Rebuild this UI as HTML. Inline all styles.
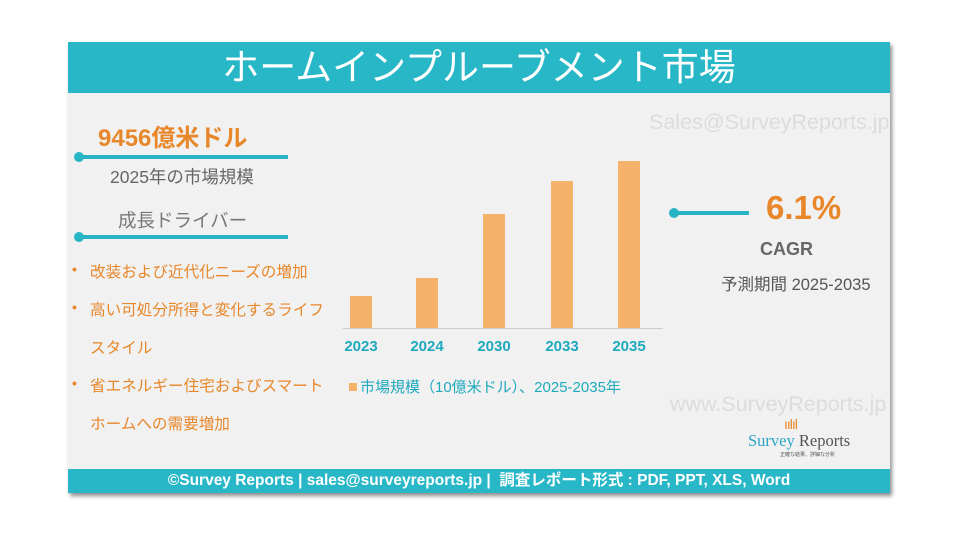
<!DOCTYPE html><html><head><meta charset="utf-8"><style>
body{margin:0;width:960px;height:540px;background:#fff;position:relative;overflow:hidden;font-family:"Liberation Sans","Noto Sans CJK JP",sans-serif}
.a{position:absolute;white-space:nowrap}
.card{position:absolute;left:68px;top:42px;width:822px;height:451px;background:#f1f1f1;box-shadow:2px 3px 4px rgba(0,0,0,.45)}
.bar{position:absolute;width:22px;background:#f5b26b;bottom:212px}
.yr{position:absolute;top:338px;font-weight:bold;font-size:15px;color:#1ea9bd;width:60px;text-align:center}
.dot{position:absolute;width:10px;height:10px;border-radius:50%;background:#27b4c5}
.ln{position:absolute;height:4px;background:#27b4c5}
.li{position:absolute;font-size:14px;color:#e8872a;font-weight:bold}
.t{font-size:15.6px;color:#e8872a}
</style></head><body>
<div class="card"></div>
<div class="a" style="left:68px;top:42px;width:822px;height:51px;background:#27b7c7;color:#fff;font-size:37px;text-align:center;line-height:51px">ホームインプルーブメント市場</div>
<div class="a" style="left:649px;top:110px;font-size:21.5px;color:#dcdcdc">Sales@SurveyReports.jp</div>
<div class="a" style="left:670px;top:392px;font-size:21.5px;color:#dcdcdc">www.SurveyReports.jp</div>
<div class="a" style="left:98px;top:118px;font-size:24px;font-weight:bold;color:#e8872a">9456億米ドル</div>
<div class="dot" style="left:74px;top:152px"></div><div class="ln" style="left:78px;top:155px;width:210px"></div>
<div class="a" style="left:110px;top:164px;font-size:17.5px;color:#666">2025年の市場規模</div>
<div class="a" style="left:118px;top:207px;font-size:18.5px;color:#777">成長ドライバー</div>
<div class="dot" style="left:74px;top:232px"></div><div class="ln" style="left:78px;top:235px;width:210px"></div>
<div class="li" style="left:72px;top:261px">•</div><div class="a t" style="left:90px;top:260px">改装および近代化ニーズの増加</div>
<div class="li" style="left:72px;top:299px">•</div><div class="a t" style="left:90px;top:298px">高い可処分所得と変化するライフ</div>
<div class="a t" style="left:90px;top:336px">スタイル</div>
<div class="li" style="left:72px;top:375px">•</div><div class="a t" style="left:90px;top:374px">省エネルギー住宅およびスマート</div>
<div class="a t" style="left:90px;top:412px">ホームへの需要増加</div>
<div class="bar" style="left:350px;height:32px"></div>
<div class="bar" style="left:416px;height:50px"></div>
<div class="bar" style="left:483px;height:114px"></div>
<div class="bar" style="left:551px;height:147px"></div>
<div class="bar" style="left:618px;height:167px"></div>
<div class="a" style="left:343px;top:328px;width:320px;height:1px;background:#ccc"></div>
<div class="yr" style="left:331px">2023</div><div class="yr" style="left:397px">2024</div><div class="yr" style="left:464px">2030</div><div class="yr" style="left:532px">2033</div><div class="yr" style="left:599px">2035</div>
<div class="a" style="left:349px;top:383px;width:8px;height:8px;background:#f5b26b"></div>
<div class="a" style="left:360px;top:376px;font-size:15px;color:#1ea9bd">市場規模（10億米ドル）、2025-2035年</div>
<div class="dot" style="left:669px;top:208px"></div><div class="ln" style="left:675px;top:211px;width:74px"></div>
<div class="a" style="left:766px;top:189px;font-size:33px;font-weight:bold;color:#e8872a">6.1%</div>
<div class="a" style="left:760px;top:239px;font-size:18px;font-weight:bold;color:#666">CAGR</div>
<div class="a" style="left:721px;top:271px;font-size:16.5px;color:#555">予測期間 2025-2035</div>
<div class="a" style="left:784px;top:416px;width:24px;height:16px;color:#e8872a;font-size:14px;letter-spacing:-1px">ıılıl</div>
<div class="a" style="left:748px;top:431px;font-size:16.5px;font-family:'Liberation Serif',serif"><span style="color:#2aa6c8">Survey</span> <span style="color:#555">Reports</span></div>
<div class="a" style="left:780px;top:451px;font-size:5px;color:#555">正確な結果、詳細な分析</div>
<div class="a" style="left:68px;top:469px;width:822px;height:24px;background:#27b7c7;color:#fff;font-size:15.5px;font-weight:bold;text-align:center;line-height:24px">©Survey Reports | sales@surveyreports.jp |&nbsp; 調査レポート形式 : PDF, PPT, XLS, Word</div>
</body></html>
